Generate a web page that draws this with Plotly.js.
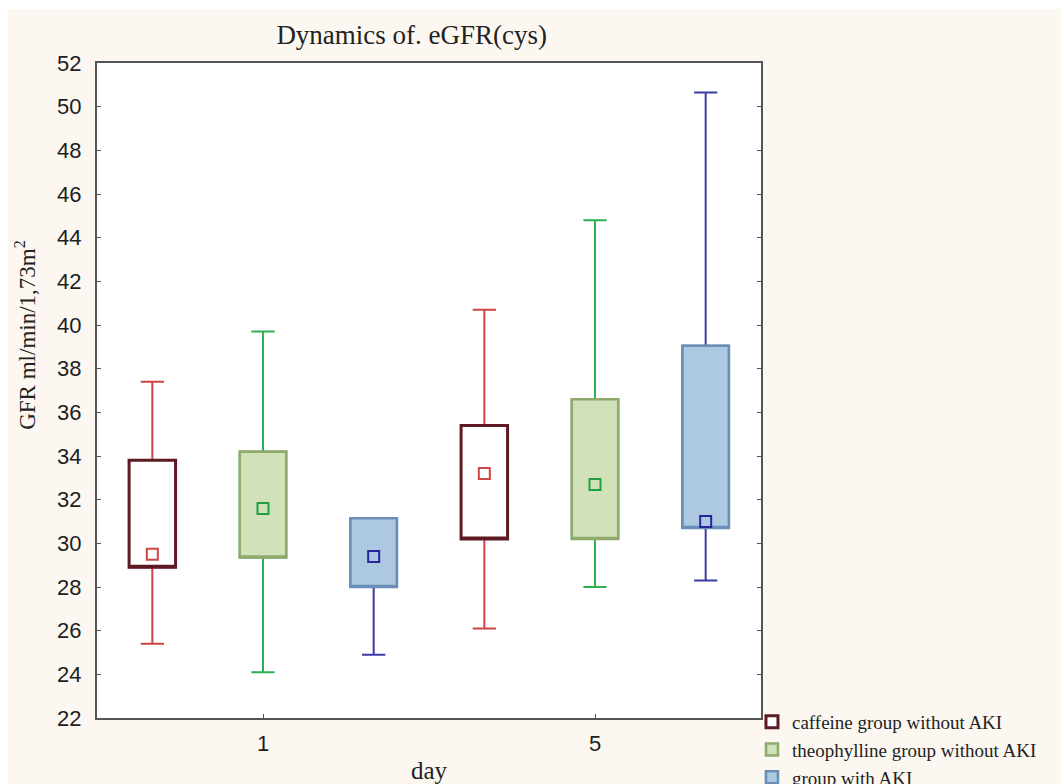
<!DOCTYPE html>
<html>
<head>
<meta charset="utf-8">
<script src="https://cdn.plot.ly/plotly-3.0.1.min.js"></script>
<style>
  html, body { margin: 0; padding: 0; background: #ffffff; }
  #chart { position: absolute; left: 8px; top: 9px; width: 1053px; height: 775px; }
</style>
</head>
<body>
<div id="chart"></div>
<script>
// ---- data ----
const days = ['1', '5'];
const groups = ['caffeine group without AKI', 'theophylline group without AKI', 'group with AKI'];

// per group, values for day 1 and day 5
const caffeineMin    = [25.4, 26.1];
const caffeineQ1     = [28.9, 30.2];
const caffeineCenter = [29.5, 33.2];
const caffeineQ3     = [33.8, 35.4];
const caffeineMax    = [37.4, 40.7];

const theoMin    = [24.1, 28.0];
const theoQ1     = [29.35, 30.2];
const theoCenter = [31.6, 32.7];
const theoQ3     = [34.2, 36.6];
const theoMax    = [39.7, 44.8];

const akiMin    = [24.9, 28.3];
const akiQ1     = [28.0, 30.7];
const akiCenter = [29.4, 31.0];
const akiQ3     = [31.15, 39.05];
const akiMax    = [31.15, 50.65];

// ---- styles ----
const styles = [
  {whisker: '#cc4444', border: '#5e1a22', fill: '#ffffff', center: '#d04545', bw: 3},
  {whisker: '#2eb050', border: '#8eaa6c', fill: '#d1e2ba', center: '#1f9e42', bw: 2.6},
  {whisker: '#3b3ba6', border: '#6a8fb6', fill: '#adc9e2', center: '#25259c', bw: 2.6}
];
const series = [
  {min: caffeineMin, q1: caffeineQ1, c: caffeineCenter, q3: caffeineQ3, max: caffeineMax},
  {min: theoMin, q1: theoQ1, c: theoCenter, q3: theoQ3, max: theoMax},
  {min: akiMin, q1: akiQ1, c: akiCenter, q3: akiQ3, max: akiMax}
];

const nG = groups.length;
const pos = (g) => days.map((d, di) => di * nG + g + 1);
const tickPos = days.map((d, di) => di * nG + (nG + 1) / 2);

const BOXW = 0.42;
const whiskerTraces = [], boxTraces = [], centerTraces = [];
series.forEach((s, g) => {
  const st = styles[g];
  whiskerTraces.push({
    type: 'box', name: groups[g], legendgroup: groups[g], showlegend: false,
    x: pos(g), q1: s.q1, median: s.c, q3: s.q3, lowerfence: s.min, upperfence: s.max,
    width: BOXW, whiskerwidth: 0.5,
    line: {color: st.whisker, width: 2}, fillcolor: 'rgba(0,0,0,0)', hoverinfo: 'skip'
  });
  boxTraces.push({
    type: 'box', name: groups[g], legendgroup: groups[g], showlegend: true,
    // box only: fences at the box edges, median drawn on the lower edge (center shown as a square)
    x: pos(g), q1: s.q1, median: s.q1, q3: s.q3, lowerfence: s.q1, upperfence: s.q3,
    width: BOXW, whiskerwidth: 0,
    line: {color: st.border, width: st.bw}, fillcolor: st.fill, hoverinfo: 'skip'
  });
  centerTraces.push({
    type: 'scatter', mode: 'markers', name: groups[g], legendgroup: groups[g], showlegend: false,
    x: pos(g), y: s.c,
    marker: {symbol: 'square', size: 11, color: st.fill, line: {color: st.center, width: 2}}
  });
});

const axisFont = {family: 'Liberation Sans, Arial, sans-serif', size: 22, color: '#1e1e1e'};
const serif = 'Liberation Serif, Times New Roman, serif';

const layout = {
  width: 1053, height: 775,
  paper_bgcolor: '#fcf8f1', plot_bgcolor: '#ffffff',
  margin: {l: 89, r: 300, t: 54, b: 66, autoexpand: false},
  boxmode: 'overlay',
  title: {text: 'Dynamics of. eGFR(cys)', font: {family: serif, size: 27, color: '#222'},
          x: 0.474, xanchor: 'center', xref: 'paper', y: 0.967, yanchor: 'middle', yref: 'container'},
  xaxis: {
    range: [0.5, nG * days.length + 0.5], tickmode: 'array', tickvals: tickPos, ticktext: days,
    showgrid: false, zeroline: false, showline: true, linecolor: '#555', linewidth: 2, mirror: true,
    ticks: 'inside', ticklen: 4, tickcolor: '#555', tickfont: axisFont, ticklabelstandoff: 5,
    title: {text: 'day', font: {family: serif, size: 25, color: '#222'}, standoff: 6}
  },
  yaxis: {
    range: [22, 52], dtick: 2, tick0: 22,
    showgrid: false, zeroline: false, showline: true, linecolor: '#555', linewidth: 2, mirror: 'ticks',
    ticks: 'inside', ticklen: 4, tickcolor: '#555', tickfont: axisFont, ticklabelstandoff: 9
  },
  annotations: [{
    text: 'GFR ml/min/1,73m<sup>2</sup>', textangle: -90, showarrow: false,
    xref: 'paper', yref: 'paper', x: -0.107, y: 0.585, xanchor: 'center', yanchor: 'middle',
    font: {family: serif, size: 23, color: '#222'}
  }],
  legend: {
    x: 0.9864, xanchor: 'left', y: 0.023, yanchor: 'top',
    font: {family: serif, size: 19, color: '#222'},
    bgcolor: 'rgba(0,0,0,0)', tracegroupgap: 0, itemclick: false
  },
  showlegend: true
};

Plotly.newPlot('chart', [...whiskerTraces, ...boxTraces, ...centerTraces], layout, {displayModeBar: false, staticPlot: true});
</script>
</body>
</html>
